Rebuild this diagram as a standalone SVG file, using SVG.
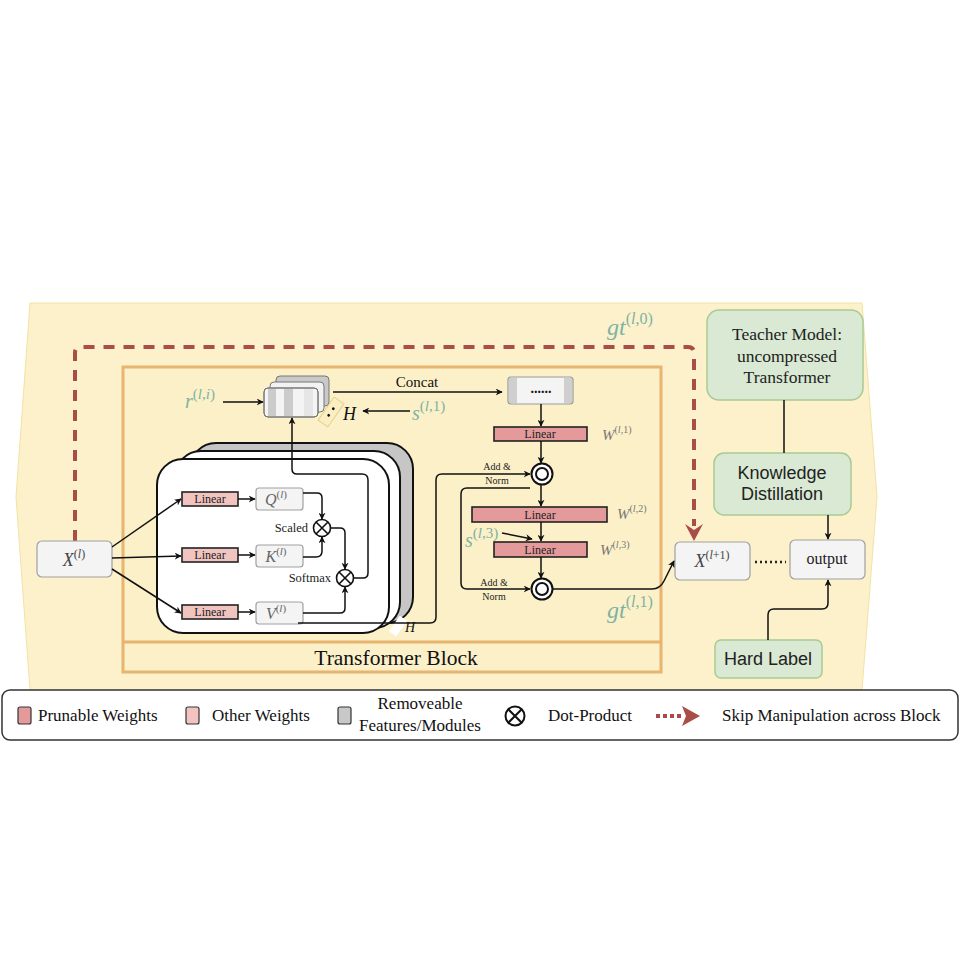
<svg xmlns="http://www.w3.org/2000/svg" width="960" height="960" viewBox="0 0 960 960">
<defs>
<style>
.serif{font-family:"Liberation Serif","DejaVu Serif",serif;}
.sans{font-family:"Liberation Sans","DejaVu Sans",sans-serif;}
.it{font-style:italic;}
.up{font-style:normal;}
.teal{fill:#7db3a3;}
.wlab{fill:#777;font-family:"Liberation Serif",serif;font-style:italic;font-size:15px;}
.lin{fill:#f2c4c0;stroke:#222;stroke-width:1.6;}
.prune{fill:#e49a9a;stroke:#222;stroke-width:1.6;}
.ltxt{font-family:"Liberation Serif",serif;font-size:12px;fill:#222;text-anchor:middle;}
.vbox{fill:#f4f4f4;stroke:#a0a0a0;stroke-width:1.2;}
.green{fill:#d9e9d3;stroke:#a9ca92;stroke-width:1.5;}
.conn{fill:none;stroke:#111;stroke-width:1.5;}
.an{font-family:"Liberation Serif",serif;font-size:10px;fill:#222;text-anchor:middle;}
.ring{fill:#fff;stroke:#111;stroke-width:2;}
.leg{font-family:"Liberation Serif",serif;font-size:17px;fill:#111;}
</style>
<marker id="ah" viewBox="0 0 10 10" refX="9" refY="5" markerWidth="7" markerHeight="7" orient="auto" markerUnits="userSpaceOnUse">
<path d="M0,0 L10,5 L0,10 L3,5 z" fill="#111"/>
</marker>
</defs>
<rect width="960" height="960" fill="#fff"/>

<g id="panel">
<polygon points="30,303 862,303 877,497 862,690 30,690 16,497" fill="#fcf1cb" stroke="#f1e2a6" stroke-width="1"/>
</g>

<g id="transformer-block">
<rect x="123" y="367" width="538" height="305" fill="#fcf0c8" stroke="#e8b46e" stroke-width="3"/>
<line x1="123" y1="642" x2="661" y2="642" stroke="#e8b46e" stroke-width="3"/>
<text x="396" y="665" class="serif" font-size="21.5" text-anchor="middle" fill="#111">Transformer Block</text>
</g>

<g id="skip">
<path d="M75,541 V353 Q75,347 81,347 H688 Q694,347 694,353 V526" fill="none" stroke="#a84d48" stroke-width="4" stroke-dasharray="11 9"/>
<path d="M685,524 L694,530 L703,524 L694,541 z" fill="#a84d48"/>
<text x="607" y="335" class="serif it teal" font-size="24">gt<tspan dy="-11" font-size="16" class="up">(<tspan class="it">l</tspan>,0)</tspan></text>
</g>

<g id="attention-stack">
<rect x="190" y="443" width="223" height="180" rx="26" fill="#c6c6c6" stroke="#111" stroke-width="2"/>
<rect x="175" y="451" width="225" height="177" rx="26" fill="#fff" stroke="#111" stroke-width="2"/>
<rect x="157" y="459" width="232" height="174" rx="26" fill="#fff" stroke="#111" stroke-width="2"/>
<g transform="translate(398,626) rotate(35)">
<rect x="-4" y="-9" width="8" height="18" fill="#fff" stroke="#fff"/>
</g>
<text x="405" y="632" class="serif it" font-size="14" fill="#111">H</text>
</g>

<g id="x-l">
<rect x="37" y="541" width="75" height="36" rx="5" class="vbox"/>
<text x="74" y="566" class="serif it" font-size="18" fill="#444" text-anchor="middle">X<tspan dy="-8" font-size="12" class="up">(<tspan class="it">l</tspan>)</tspan></text>
</g>

<g id="linear-q"><rect x="182" y="492" width="56" height="14" class="lin"/><text x="210" y="503" class="ltxt">Linear</text></g>
<g id="linear-k"><rect x="182" y="548" width="56" height="14" class="lin"/><text x="210" y="559" class="ltxt">Linear</text></g>
<g id="linear-v"><rect x="182" y="605" width="56" height="14" class="lin"/><text x="210" y="616" class="ltxt">Linear</text></g>

<g id="q"><rect x="256" y="488" width="47" height="22" rx="3" class="vbox"/><text x="276" y="505" class="serif it" font-size="16" fill="#666" text-anchor="middle">Q<tspan dy="-7" font-size="11" class="up">(<tspan class="it">l</tspan>)</tspan></text></g>
<g id="k"><rect x="256" y="545" width="47" height="22" rx="3" class="vbox"/><text x="276" y="562" class="serif it" font-size="16" fill="#666" text-anchor="middle">K<tspan dy="-7" font-size="11" class="up">(<tspan class="it">l</tspan>)</tspan></text></g>
<g id="v"><rect x="256" y="602" width="47" height="22" rx="3" class="vbox"/><text x="276" y="619" class="serif it" font-size="16" fill="#666" text-anchor="middle">V<tspan dy="-7" font-size="11" class="up">(<tspan class="it">l</tspan>)</tspan></text></g>

<g id="scaled">
<circle cx="322" cy="528" r="8.5" fill="#fff" stroke="#111" stroke-width="1.6"/>
<path d="M316,522 L328,534 M328,522 L316,534" stroke="#111" stroke-width="1.6"/>
<text x="308" y="532" class="serif" font-size="12.5" fill="#222" text-anchor="end">Scaled</text>
</g>
<g id="softmax">
<circle cx="345" cy="578" r="8.5" fill="#fff" stroke="#111" stroke-width="1.6"/>
<path d="M339,572 L351,584 M351,572 L339,584" stroke="#111" stroke-width="1.6"/>
<text x="331" y="582" class="serif" font-size="12.5" fill="#222" text-anchor="end">Softmax</text>
</g>

<g id="heads">
<rect x="276" y="376" width="53" height="30" rx="4" fill="#c9c9c9" stroke="#777" stroke-width="1"/>
<rect x="270" y="382" width="54" height="30" rx="4" fill="#f2f2f2" stroke="#777" stroke-width="1"/>
<rect x="264" y="388" width="54" height="29" rx="4" fill="#f4f4f4" stroke="#777" stroke-width="1"/>
<rect x="268" y="389" width="8" height="27" fill="#cbcbcb"/>
<rect x="284" y="389" width="9" height="27" fill="#cbcbcb"/>
<rect x="304" y="389" width="9" height="27" fill="#e6e6e6"/>
<rect x="264" y="388" width="54" height="29" rx="4" fill="none" stroke="#777" stroke-width="1"/>
<g transform="translate(331,412) rotate(35)">
<rect x="-6" y="-14" width="12" height="28" fill="#fbefc2" stroke="#e2cf8c" stroke-width="1"/>
<circle cx="0" cy="-4" r="1.4" fill="#111"/><circle cx="0" cy="4" r="1.4" fill="#111"/>
</g>
<text x="343" y="420" class="serif it" font-size="18" fill="#111">H</text>
<text x="185" y="408" class="serif it teal" font-size="20">r<tspan dy="-9" font-size="15" class="up">(<tspan class="it">l</tspan>,<tspan class="it">i</tspan>)</tspan></text>
<text x="412" y="420" class="serif it teal" font-size="20">s<tspan dy="-9" font-size="15" class="up">(<tspan class="it">l</tspan>,1)</tspan></text>
<text x="417" y="387" class="serif" font-size="15" fill="#111" text-anchor="middle">Concat</text>
</g>

<g id="concat-box">
<rect x="508" y="377" width="65" height="27" rx="3" fill="#f4f4f4" stroke="#999" stroke-width="1.2"/>
<rect x="509" y="378" width="8" height="25" fill="#cfcfcf"/>
<rect x="564" y="378" width="8" height="25" fill="#cfcfcf"/>
<text x="541" y="393" class="serif" font-size="14" font-weight="bold" fill="#111" text-anchor="middle">......</text>
</g>

<g id="linear-w1"><rect x="494" y="427" width="93" height="14" class="prune"/><text x="540" y="438" class="ltxt">Linear</text>
<text x="602" y="440" class="wlab">W<tspan dy="-7" font-size="10" class="up">(<tspan class="it">l</tspan>,1)</tspan></text></g>
<g id="addnorm1"><circle cx="542" cy="474" r="10.5" class="ring"/><circle cx="542" cy="474" r="6" fill="none" stroke="#111" stroke-width="2"/>
<text x="497" y="470" class="an">Add &amp;</text><text x="497" y="484" class="an">Norm</text></g>
<g id="linear-w2"><rect x="472" y="507" width="135" height="15" class="prune"/><text x="540" y="519" class="ltxt">Linear</text>
<text x="617" y="519" class="wlab">W<tspan dy="-7" font-size="10" class="up">(<tspan class="it">l</tspan>,2)</tspan></text></g>
<g id="linear-w3"><rect x="494" y="542" width="93" height="15" class="prune"/><text x="540" y="554" class="ltxt">Linear</text>
<text x="600" y="555" class="wlab">W<tspan dy="-7" font-size="10" class="up">(<tspan class="it">l</tspan>,3)</tspan></text>
<text x="465" y="547" class="serif it teal" font-size="20">s<tspan dy="-9" font-size="15" class="up">(<tspan class="it">l</tspan>,3)</tspan></text></g>
<g id="addnorm2"><circle cx="542" cy="589" r="10.5" class="ring"/><circle cx="542" cy="589" r="6" fill="none" stroke="#111" stroke-width="2"/>
<text x="494" y="586" class="an">Add &amp;</text><text x="494" y="600" class="an">Norm</text>
<text x="607" y="618" class="serif it teal" font-size="24">gt<tspan dy="-11" font-size="16" class="up">(<tspan class="it">l</tspan>,1)</tspan></text></g>

<g id="x-l1">
<rect x="675" y="542" width="75" height="38" rx="5" class="vbox"/>
<text x="712" y="567" class="serif it" font-size="18" fill="#444" text-anchor="middle">X<tspan dy="-8" font-size="12" class="up">(<tspan class="it">l</tspan>+1)</tspan></text>
</g>
<g id="output">
<rect x="790" y="540" width="75" height="39" rx="5" class="vbox"/>
<text x="827" y="564" class="serif" font-size="16" fill="#222" text-anchor="middle">output</text>
</g>
<g id="teacher">
<rect x="707" y="310" width="156" height="90" rx="12" class="green"/>
<text x="787" y="340" class="serif" font-size="17.5" fill="#222" text-anchor="middle">Teacher Model:</text>
<text x="787" y="362" class="serif" font-size="17.5" fill="#222" text-anchor="middle">uncompressed</text>
<text x="787" y="383" class="serif" font-size="17.5" fill="#222" text-anchor="middle">Transformer</text>
</g>
<g id="kd">
<rect x="714" y="453" width="137" height="62" rx="10" class="green"/>
<text x="782" y="479" class="sans" font-size="18" fill="#222" text-anchor="middle">Knowledge</text>
<text x="782" y="500" class="sans" font-size="18" fill="#222" text-anchor="middle">Distillation</text>
</g>
<g id="hard-label">
<rect x="715" y="640" width="107" height="38" rx="6" class="green"/>
<text x="768" y="665" class="sans" font-size="18" fill="#222" text-anchor="middle">Hard Label</text>
</g>

<g id="connectors">
<path class="conn" d="M112,547 L181,499" marker-end="url(#ah)"/>
<path class="conn" d="M112,558 L181,556" marker-end="url(#ah)"/>
<path class="conn" d="M112,569 L181,613" marker-end="url(#ah)"/>
<path class="conn" d="M238,499 H255" marker-end="url(#ah)"/>
<path class="conn" d="M238,555 H255" marker-end="url(#ah)"/>
<path class="conn" d="M238,612 H255" marker-end="url(#ah)"/>
<path class="conn" d="M303,493 H317 Q322,493 322,498 V519" marker-end="url(#ah)"/>
<path class="conn" d="M303,557 H316 Q322,557 322,551 V537" marker-end="url(#ah)"/>
<path class="conn" d="M331,528 H340 Q345,528 345,533 V569" marker-end="url(#ah)"/>
<path class="conn" d="M303,613 H340 Q345,613 345,608 V587" marker-end="url(#ah)"/>
<path class="conn" d="M354,578 H363 Q368,578 368,573 V480 Q368,474 362,474 H297 Q292,474 292,469 V418" marker-end="url(#ah)"/>
<path class="conn" d="M298,623 H430 Q436,623 436,617 V480 Q436,474 442,474 H530" marker-end="url(#ah)"/>
<path class="conn" d="M223,402 H263" marker-end="url(#ah)"/>
<path class="conn" d="M410,411 H363" marker-end="url(#ah)"/>
<path class="conn" d="M333,392 H502" marker-end="url(#ah)"/>
<path class="conn" d="M541,404 V426" marker-end="url(#ah)"/>
<path class="conn" d="M541,441 V463" marker-end="url(#ah)"/>
<path class="conn" d="M541,485 V506" marker-end="url(#ah)"/>
<path class="conn" d="M530,488 H467 Q461,488 461,494 V583 Q461,589 467,589 H530" marker-end="url(#ah)"/>
<path class="conn" d="M541,522 V541" marker-end="url(#ah)"/>
<path class="conn" d="M502,533 L532,539" marker-end="url(#ah)"/>
<path class="conn" d="M541,557 V578" marker-end="url(#ah)"/>
<path class="conn" d="M553,589 H652 Q660,589 664,581 L674,561" marker-end="url(#ah)"/>
<path d="M755,562 H786" stroke="#222" stroke-width="2.5" stroke-dasharray="2 3" fill="none"/>
<path class="conn" d="M784,400 V453" stroke="#333"/>
<path class="conn" d="M828,515 V539" marker-end="url(#ah)"/>
<path class="conn" d="M768,640 V615 Q768,609 774,609 H822 Q828,609 828,603 V580" marker-end="url(#ah)"/>
</g>

<g id="legend">
<rect x="2" y="690" width="956" height="50" rx="8" fill="#fff" stroke="#333" stroke-width="1.5"/>
<rect x="18" y="707" width="13" height="17" rx="2" fill="#e49a9a" stroke="#333" stroke-width="1.2"/>
<text x="38" y="721" class="leg">Prunable Weights</text>
<rect x="186" y="707" width="13" height="17" rx="2" fill="#f2c4c0" stroke="#333" stroke-width="1.2"/>
<text x="212" y="721" class="leg">Other Weights</text>
<rect x="338" y="707" width="13" height="17" rx="2" fill="#c8c8c8" stroke="#333" stroke-width="1.2"/>
<text x="420" y="709" class="leg" text-anchor="middle">Removeable</text>
<text x="420" y="731" class="leg" text-anchor="middle">Features/Modules</text>
<circle cx="515" cy="716" r="9.5" fill="#fff" stroke="#111" stroke-width="2"/>
<path d="M508.3,709.3 L521.7,722.7 M521.7,709.3 L508.3,722.7" stroke="#111" stroke-width="2"/>
<text x="548" y="721" class="leg">Dot-Product</text>
<path d="M656,716 H683" stroke="#a84d48" stroke-width="4" stroke-dasharray="4 3" fill="none"/>
<path d="M682,706 L700,716 L682,726 L686,716 z" fill="#a84d48"/>
<text x="722" y="721" class="leg">Skip Manipulation across Block</text>
</g>
</svg>
